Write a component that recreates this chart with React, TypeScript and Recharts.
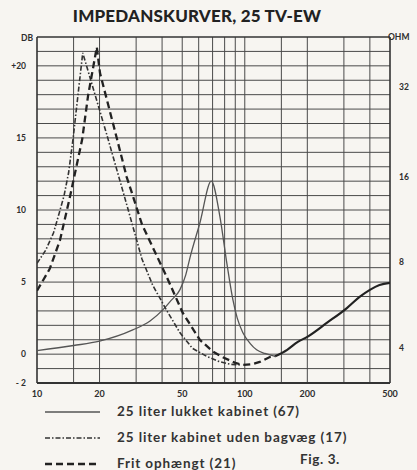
import React from "react";
import { LineChart, Line, XAxis, YAxis, ReferenceLine } from "recharts";

// ---- data ----
const lukketFreq = [10, 15, 20, 28.9, 35, 40.3, 44, 48.7, 52, 54.5, 60.8, 69, 75.8, 82, 87.6, 92, 97.8, 106, 114, 125, 140];
const lukketDb = [0.25, 0.6, 0.9, 1.68, 2.3, 3.07, 3.7, 4.46, 5.5, 6.7, 9.1, 12.0, 9.6, 6.3, 3.8, 2.5, 1.5, 0.75, 0.3, 0.05, -0.15];

const tailFreq = [140, 160, 180, 200, 250, 310, 357, 400, 445, 500];
const tailDb = [-0.15, 0.3, 0.85, 1.2, 2.2, 3.2, 3.97, 4.46, 4.8, 4.95];

const udenFreq = [10, 11, 12, 12.8, 13.5, 14.2, 14.9, 16.6, 21.7, 27, 32, 36, 39, 42, 48.7, 56, 65.6, 75, 85, 96];
const udenDb = [6.3, 7.2, 8.4, 9.8, 11.0, 12.6, 14.9, 20.9, 15.2, 10.4, 6.6, 4.8, 3.9, 3.05, 1.5, 0.4, -0.15, -0.5, -0.7, -0.75];

const fritFreq = [10, 11.5, 12.9, 14.4, 16.5, 17.6, 19.4, 20.1, 24.2, 27, 28.9, 32, 36.1, 42.1, 50.3, 60.8, 70, 78, 90, 98, 108, 118, 132, 140];
const fritDb = [4.4, 5.9, 7.9, 10.9, 14.9, 17.9, 21.3, 19.5, 15.0, 12.3, 11.0, 9.0, 7.4, 5.36, 2.86, 0.99, 0.2, -0.2, -0.6, -0.75, -0.7, -0.54, -0.2, -0.15];

const dbTicks = [-2, 0, 5, 10, 15, 20];
const dbTickLabels = ["- 2", "0", "5", "10", "15", "+20"];
const ohmTickDb = [0.4, 6.4, 12.3, 18.5];
const ohmTickLabels = ["4", "8", "16", "32"];
const freqTicks = [10, 20, 50, 100, 200, 500];
const freqTickLabels = ["10", "20", "50", "100", "200", "500"];

const gridFreq = [15, 20, 30, 40, 50, 60, 70, 80, 90, 100, 150, 200, 300, 400];
const gridDb = [-1, 0, 1, 2, 3, 4, 5, 6, 7, 8, 9, 10, 11, 12, 13, 14, 15, 16, 17, 18, 19, 20, 21];

const legendLabels = [
  "25 liter lukket kabinet (67)",
  "25 liter kabinet uden bagvæg (17)",
  "Frit ophængt (21)",
];

const toRows = (f: number[], v: number[]) => f.map((x, i) => ({ f: x, db: v[i] }));
const lukket = toRows(lukketFreq, lukketDb);
const tail = toRows(tailFreq, tailDb);
const uden = toRows(udenFreq, udenDb);
const frit = toRows(fritFreq, fritDb);

const FONT = "Lato, 'Open Sans', 'DejaVu Sans', sans-serif";
const INK = "#2e2e2e";
const GRID = "#4a4a4a";

const legendStyles = [
  { stroke: "#555", width: 1.3, dash: undefined as string | undefined },
  { stroke: "#333", width: 1.5, dash: "5 2 1.5 2" },
  { stroke: "#222", width: 2.6, dash: "7 4" },
];

export default function App() {
  return (
    <div
      style={{
        position: "absolute",
        left: 0,
        top: 0,
        width: 417,
        height: 470,
        background: "#f7f5f1",
        overflow: "hidden",
        fontFamily: FONT,
      }}
    >
      <div
        style={{
          position: "absolute",
          left: 0,
          width: 394,
          top: 5,
          textAlign: "center",
          fontSize: 17,
          fontWeight: 900,
          color: "#222",
          letterSpacing: 0.2,
        }}
      >
        IMPEDANSKURVER, 25 TV-EW
      </div>
      <div style={{ position: "absolute", left: 21, top: 33, fontSize: 8.5, fontWeight: 700, color: INK }}>DB</div>
      <div style={{ position: "absolute", left: 388, top: 32, fontSize: 8.5, fontWeight: 700, color: INK }}>OHM</div>

      <LineChart
        width={417}
        height={470}
        margin={{ top: 37, right: 0, bottom: 67, left: 7 }}
        style={{ position: "absolute", left: 0, top: 0 }}
      >
        <XAxis
          type="number"
          dataKey="f"
          scale="log"
          domain={[10, 500]}
          allowDataOverflow
          ticks={freqTicks}
          tickFormatter={(v: number) => freqTickLabels[freqTicks.indexOf(v)] ?? String(v)}
          axisLine={false}
          tickLine={false}
          tickSize={0}
          tickMargin={8}
          height={20}
          tick={{ fontSize: 9, fill: INK, fontWeight: 700, fontFamily: FONT }}
        />
        <YAxis
          yAxisId="db"
          type="number"
          domain={[-2, 22]}
          allowDataOverflow
          ticks={dbTicks}
          tickFormatter={(v: number) => dbTickLabels[dbTicks.indexOf(v)] ?? String(v)}
          axisLine={false}
          tickLine={false}
          tickSize={0}
          tickMargin={11}
          width={30}
          tick={{ fontSize: 8.5, fill: INK, fontWeight: 700, fontFamily: FONT }}
        />
        <YAxis
          yAxisId="ohm"
          orientation="right"
          type="number"
          domain={[-2, 22]}
          allowDataOverflow
          ticks={ohmTickDb}
          tickFormatter={(v: number) => ohmTickLabels[ohmTickDb.indexOf(v)] ?? ""}
          axisLine={false}
          tickLine={false}
          tickSize={0}
          tickMargin={9}
          width={27}
          tick={{ fontSize: 8.5, fill: INK, fontWeight: 700, fontFamily: FONT }}
        />

        {gridDb.map((d) => (
          <ReferenceLine key={"h" + d} yAxisId="db" y={d} stroke={GRID} strokeWidth={1} />
        ))}
        {gridFreq.map((f) => (
          <ReferenceLine key={"v" + f} yAxisId="db" x={f} stroke={GRID} strokeWidth={1} />
        ))}
        <ReferenceLine yAxisId="db" y={-2} stroke="#333" strokeWidth={2} />
        <ReferenceLine yAxisId="db" y={22} stroke="#333" strokeWidth={1.6} />
        <ReferenceLine yAxisId="db" x={10} stroke="#333" strokeWidth={1.6} />
        <ReferenceLine yAxisId="db" x={500} stroke="#333" strokeWidth={1.6} />

        <Line
          yAxisId="db"
          data={lukket}
          dataKey="db"
          type="monotone"
          stroke="#555"
          strokeWidth={1.3}
          dot={false}
          isAnimationActive={false}
        />
        <Line
          yAxisId="db"
          data={tail}
          dataKey="db"
          type="monotone"
          stroke="#222"
          strokeWidth={2.2}
          dot={false}
          isAnimationActive={false}
        />
        <Line
          yAxisId="db"
          data={uden}
          dataKey="db"
          type="linear"
          stroke="#333"
          strokeWidth={1.6}
          strokeDasharray="5 2 1.5 2"
          dot={false}
          isAnimationActive={false}
        />
        <Line
          yAxisId="db"
          data={frit}
          dataKey="db"
          type="linear"
          stroke="#222"
          strokeWidth={2.3}
          strokeDasharray="7 4"
          dot={false}
          isAnimationActive={false}
        />
      </LineChart>

      {legendLabels.map((label, i) => (
        <div
          key={label}
          style={{
            position: "absolute",
            left: 44,
            top: 402 + i * 26,
            height: 18,
            display: "flex",
            alignItems: "center",
          }}
        >
          <svg width={58} height={10} style={{ marginRight: 15 }}>
            <line
              x1={1}
              y1={6}
              x2={56}
              y2={6}
              stroke={legendStyles[i].stroke}
              strokeWidth={legendStyles[i].width}
              strokeDasharray={legendStyles[i].dash}
            />
          </svg>
          <span style={{ fontSize: 13.5, fontWeight: 700, color: "#333", whiteSpace: "nowrap", letterSpacing: 0.9 }}>
            {label}
          </span>
        </div>
      ))}
      <div style={{ position: "absolute", left: 300, top: 451, fontSize: 13.5, fontWeight: 700, color: "#333", letterSpacing: 0.6 }}>
        Fig. 3.
      </div>
    </div>
  );
}
